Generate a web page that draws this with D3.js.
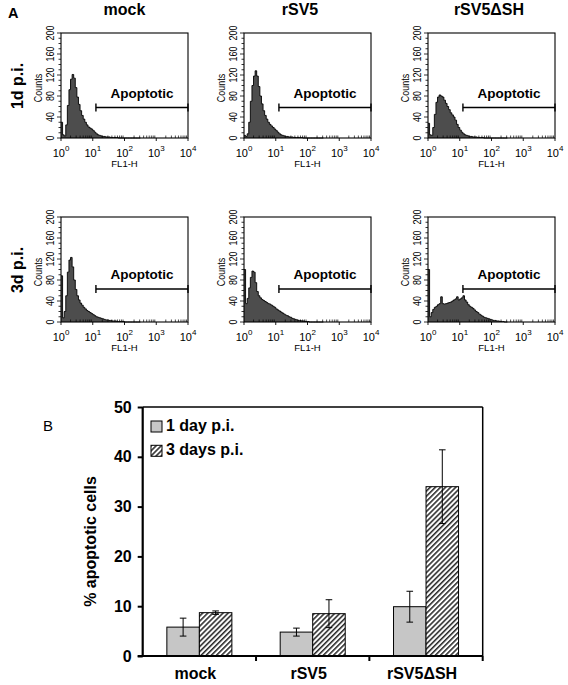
<!DOCTYPE html>
<html><head><meta charset="utf-8">
<script src="https://cdn.jsdelivr.net/npm/d3@7/dist/d3.min.js"></script>
<style>body{margin:0;background:#fff}svg{display:block}text{font-family:"Liberation Sans",Arial,Helvetica,sans-serif;fill:#000}</style>
</head><body><svg id="c" width="568" height="685"></svg>
<script>
// ---------------- DATA ----------------
// Panel A: flow cytometry histograms (counts per 0.05-decade bin, FL1-H log scale from 10^0)
const histBinWidth = 0.05;
const conditions = ["mock", "rSV5", "rSV5\u0394SH"];
const timepoints = ["1d p.i.", "3d p.i."];
const countTicks = [0, 40, 80, 120, 160, 200];
const decadeTicks = [0, 1, 2, 3, 4];
const gateRange = [1.1, 4];           // log10 FL1-H
const gateCounts1d = [58, 58, 58];
const gateCounts3d = [63, 63, 63];
const gateLabel = "Apoptotic";

const histMock1d = [30,6,4,25,62,92,112,121,114,96,78,64,52,43,36,30,25,21,19,17,14,11,8,6,5,4,3,3,2,2,2,1,1,1,1,1,0,0,0,0,0,0,0,0,0,0,0,0,0,0];
const histRSV51d = [5,3,8,30,70,100,118,128,118,98,80,65,52,43,36,30,26,23,20,17,14,11,8,6,5,4,3,3,2,2,2,1,1,1,1,1,1,0,0,0,0,0,0,0,0,0,0,0,0,0];
const histDSH1d  = [28,6,5,20,45,68,78,82,80,78,72,66,60,54,48,44,40,34,26,20,15,11,8,6,5,4,3,3,2,2,2,1,1,1,1,0,0,0,0,0,0,0,0,0,0,0,0,0,0,0];
const histMock3d = [88,8,20,50,95,118,123,105,80,62,50,42,36,32,28,25,22,20,18,16,14,12,10,9,8,7,6,5,4,4,3,3,2,2,2,1,1,1,1,1,0,0,0,0,0,0,0,0,0,0];
const histRSV53d = [100,35,45,65,85,97,95,75,58,50,46,43,41,39,37,35,34,32,30,28,25,23,21,19,17,15,13,12,10,9,7,6,5,4,3,3,2,2,1,1,1,0,0,0,0,0,0,0,0,0];
const histDSH3d  = [100,10,18,24,28,30,33,35,48,35,34,35,36,37,38,40,42,44,48,42,44,46,50,42,38,33,30,28,26,23,20,18,15,13,11,9,8,7,6,5,4,3,3,2,2,1,1,1,0,0];

// Panel B: % apoptotic cells
const barCategories = ["mock", "rSV5", "rSV5\u0394SH"];
const seriesNames = ["1 day p.i.", "3 days p.i."];
const day1Values = [5.8, 4.8, 9.9];
const day1Errors = [1.8, 0.8, 3.1];
const day3Values = [8.7, 8.5, 34.0];
const day3Errors = [0.35, 2.8, 7.4];
const barYTicks = [0, 10, 20, 30, 40, 50];
const barYLabel = "% apoptotic cells";

// ---------------- DRAW ----------------
const svg = d3.select("#c");
const defs = svg.append("defs");
defs.append("pattern").attr("id", "hatch").attr("patternUnits", "userSpaceOnUse")
  .attr("width", 3.6).attr("height", 10).attr("patternTransform", "rotate(45)")
  .call(p => {
    p.append("rect").attr("width", 3.6).attr("height", 10).attr("fill", "#fff");
    p.append("line").attr("x1", 0.8).attr("x2", 0.8).attr("y1", 0).attr("y2", 10)
      .attr("stroke", "#000").attr("stroke-width", 1.3);
  });

// ---- Panel A ----
const hists = [[histMock1d, histRSV51d, histDSH1d], [histMock3d, histRSV53d, histDSH3d]];
const gates = [gateCounts1d, gateCounts3d];
const plotLefts = [61, 244, 428];
const plotTops = [33, 217];
const pw = 127, ph = 105;
const titleX = [124.5, 300, 489];

svg.append("text").attr("x", 8).attr("y", 18).attr("font-size", 14.5).attr("font-weight", "bold").text("A");
conditions.forEach((c, i) => {
  svg.append("text").attr("x", titleX[i]).attr("y", 15).attr("text-anchor", "middle")
    .attr("font-size", 16).attr("font-weight", "bold").text(c);
});
timepoints.forEach((t, r) => {
  svg.append("text").attr("transform", `translate(23,${plotTops[r] + 53}) rotate(-90)`)
    .attr("text-anchor", "middle").attr("font-size", 16).attr("font-weight", "bold").text(t);
});

const minorLog = [];
for (let d = 0; d < 4; d++) for (let m = 2; m <= 9; m++) minorLog.push(d + Math.log10(m));

timepoints.forEach((t, r) => {
  conditions.forEach((c, ci) => {
    const L = plotLefts[ci], T = plotTops[r], B = T + ph;
    const x = d3.scaleLinear().domain([0, 4]).range([L, L + pw]);
    const y = d3.scaleLinear().domain([0, 200]).range([B, T]);
    const g = svg.append("g");
    const data = hists[r][ci].map((v, i) => ({ lx: i * histBinWidth, v }));
    data.push({ lx: data.length * histBinWidth, v: 0 });
    const area = d3.area().x(d => x(d.lx)).y0(B).y1(d => y(d.v)).curve(d3.curveStepAfter);
    const line = d3.line().x(d => x(d.lx)).y(d => y(d.v)).curve(d3.curveStepAfter);
    g.append("path").datum(data).attr("d", area).attr("fill", "#4d4d4d");
    g.append("path").datum(data).attr("d", line).attr("fill", "none").attr("stroke", "#000").attr("stroke-width", 0.9);
    // frame
    g.append("rect").attr("x", L).attr("y", T).attr("width", pw).attr("height", ph)
      .attr("fill", "none").attr("stroke", "#000").attr("stroke-width", 1.1);
    // y ticks
    g.selectAll(".yt").data(d3.range(0, 201, 10)).join("line")
      .attr("x1", L).attr("x2", d => L - (d % 40 === 0 ? 4 : 2.5))
      .attr("y1", d => y(d)).attr("y2", d => y(d)).attr("stroke", "#000").attr("stroke-width", 0.8);
    g.selectAll(".yl").data(countTicks).join("text")
      .attr("transform", d => `translate(${L - 7},${y(d)}) rotate(-90) scale(0.85,1)`)
      .attr("text-anchor", "middle").attr("font-size", 10.5).text(d => d);
    g.append("text").attr("transform", `translate(${L - 19},${T + 55}) rotate(-90) scale(0.85,1)`)
      .attr("text-anchor", "middle").attr("font-size", 10.5).text("Counts");
    // x ticks
    g.selectAll(".xm").data(minorLog).join("line")
      .attr("x1", d => x(d)).attr("x2", d => x(d)).attr("y1", B).attr("y2", B - 2.5)
      .attr("stroke", "#000").attr("stroke-width", 0.7);
    g.selectAll(".xM").data(decadeTicks).join("line")
      .attr("x1", d => x(d)).attr("x2", d => x(d)).attr("y1", B).attr("y2", B + 3)
      .attr("stroke", "#000").attr("stroke-width", 0.9);
    const xl = g.selectAll(".xl").data(decadeTicks).join("text")
      .attr("x", d => x(d)).attr("y", B + 19).attr("text-anchor", "middle").attr("font-size", 11);
    xl.append("tspan").text("10");
    xl.append("tspan").attr("dy", -6).attr("font-size", 8).text(d => d);
    g.append("text").attr("x", L + pw / 2).attr("y", B + 29).attr("text-anchor", "middle")
      .attr("font-size", 9.5).text("FL1-H");
    // gate
    const gy = y(gates[r][ci]);
    g.append("line").attr("x1", x(gateRange[0])).attr("x2", x(gateRange[1])).attr("y1", gy).attr("y2", gy)
      .attr("stroke", "#000").attr("stroke-width", 1.4);
    gateRange.forEach(gx => g.append("line").attr("x1", x(gx)).attr("x2", x(gx))
      .attr("y1", gy - 4).attr("y2", gy + 4).attr("stroke", "#000").attr("stroke-width", 1.4));
    g.append("text").attr("x", x(2.55)).attr("y", gy - 9.5).attr("text-anchor", "middle")
      .attr("font-size", 13.5).attr("font-weight", "bold").text(gateLabel);
  });
});

// ---- Panel B ----
const bL = 142.7, bR = 482.7, bT = 407, bB = 656;
svg.append("text").attr("x", 43).attr("y", 431).attr("font-size", 15).text("B");
const xB = d3.scaleBand().domain(barCategories).range([bL, bR]).paddingInner(0).paddingOuter(0);
const xS = d3.scaleBand().domain(seriesNames).range([0, xB.bandwidth()]).paddingInner(0).paddingOuter(0.743);
const yB = d3.scaleLinear().domain([0, 50]).range([bB, bT]);

const rows = barCategories.map((c, i) => [
  { c, s: seriesNames[0], v: day1Values[i], e: day1Errors[i] },
  { c, s: seriesNames[1], v: day3Values[i], e: day3Errors[i] }
]).flat();
const fillFor = s => s === seriesNames[0] ? "#c6c6c6" : "url(#hatch)";

// frame top/right
svg.append("line").attr("x1", bL).attr("x2", bR).attr("y1", bT).attr("y2", bT).attr("stroke", "#000").attr("stroke-width", 1.5);
svg.append("line").attr("x1", bR).attr("x2", bR).attr("y1", bT).attr("y2", bB).attr("stroke", "#000").attr("stroke-width", 1.5);

svg.selectAll(".bar").data(rows).join("rect")
  .attr("x", d => xB(d.c) + xS(d.s)).attr("width", xS.bandwidth())
  .attr("y", d => yB(d.v)).attr("height", d => bB - yB(d.v))
  .attr("fill", d => fillFor(d.s)).attr("stroke", "#000").attr("stroke-width", 1);

const eb = svg.selectAll(".eb").data(rows).join("g");
eb.append("line").attr("x1", d => xB(d.c) + xS(d.s) + xS.bandwidth() / 2).attr("x2", d => xB(d.c) + xS(d.s) + xS.bandwidth() / 2)
  .attr("y1", d => yB(d.v + d.e)).attr("y2", d => yB(d.v - d.e)).attr("stroke", "#000").attr("stroke-width", 1);
[1, -1].forEach(sg => eb.append("line")
  .attr("x1", d => xB(d.c) + xS(d.s) + xS.bandwidth() / 2 - 3.3).attr("x2", d => xB(d.c) + xS(d.s) + xS.bandwidth() / 2 + 3.3)
  .attr("y1", d => yB(d.v + sg * d.e)).attr("y2", d => yB(d.v + sg * d.e)).attr("stroke", "#000").attr("stroke-width", 1));

// axes
const yAx = svg.append("g").attr("transform", `translate(${bL},0)`)
  .call(d3.axisLeft(yB).tickValues(barYTicks).tickSize(5).tickPadding(6));
yAx.select(".domain").attr("stroke-width", 2.2).attr("d", `M0,${bT}V${bB}`);
yAx.selectAll(".tick line").attr("stroke-width", 2);
yAx.selectAll("text").attr("font-size", 16).attr("font-weight", "bold")
  .attr("font-family", '"Liberation Sans",Arial,sans-serif');

const xAx = svg.append("g").attr("transform", `translate(0,${bB})`)
  .call(d3.axisBottom(xB).tickSize(0).tickPadding(12));
xAx.select(".domain").attr("stroke-width", 2.2).attr("d", `M${bL - 5},0H${bR}`);
xAx.selectAll("text").attr("font-size", 16).attr("font-weight", "bold").attr("dx", -4)
  .attr("font-family", '"Liberation Sans",Arial,sans-serif');
svg.selectAll(".ctick").data(barCategories.slice(1).map(c => xB(c)).concat([bR])).join("line")
  .attr("x1", d => d).attr("x2", d => d).attr("y1", bB).attr("y2", bB + 5)
  .attr("stroke", "#000").attr("stroke-width", 2);

svg.append("text").attr("transform", `translate(96,${(bT + bB) / 2 + 10}) rotate(-90)`)
  .attr("text-anchor", "middle").attr("font-size", 16).attr("font-weight", "bold").text(barYLabel);

// legend
seriesNames.forEach((s, i) => {
  svg.append("rect").attr("x", 151).attr("y", 421 + i * 24.3).attr("width", 11).attr("height", 11)
    .attr("fill", fillFor(s)).attr("stroke", "#000").attr("stroke-width", 1);
  svg.append("text").attr("x", 166).attr("y", 431 + i * 24.3).attr("font-size", 16).attr("font-weight", "bold").text(s);
});
</script></body></html>
